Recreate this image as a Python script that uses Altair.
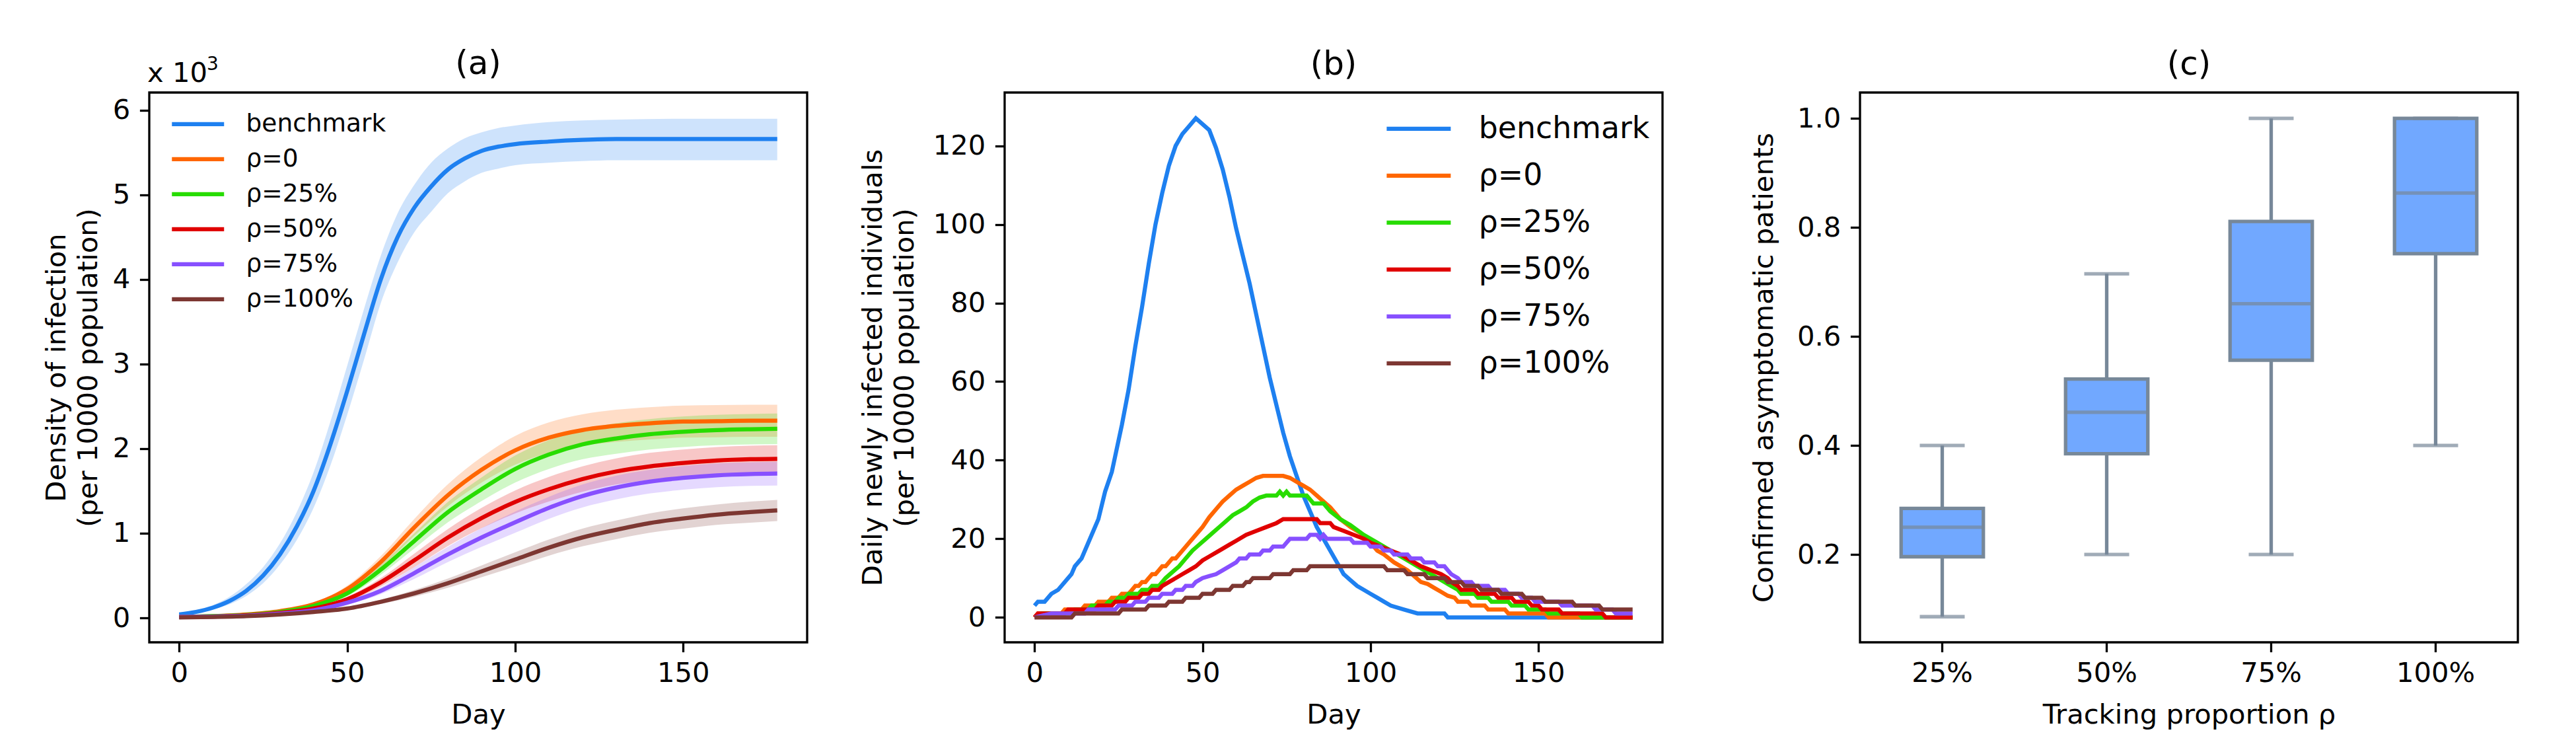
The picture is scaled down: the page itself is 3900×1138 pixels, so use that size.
import altair as alt
import pandas as pd

FONT = "DejaVu Sans"
FS = 41.7

series_names = ["benchmark", "ρ=0", "ρ=25%", "ρ=50%", "ρ=75%", "ρ=100%"]
series_colors = ["#1e80f0", "#ff6600", "#28dc00", "#e00000", "#8750ff", "#7d3732"]

# ---------------- Panel (a): cumulative density (x 10^3) ----------------
bench_a_days = [0, 5, 10, 15, 20, 25, 30, 35, 40, 45, 50, 55, 60, 65, 70, 75, 80, 85, 90, 95, 100, 110, 120, 130, 150, 178]
bench_a_mean = [0.04, 0.07, 0.12, 0.2, 0.32, 0.5, 0.75, 1.08, 1.5, 2.05, 2.68, 3.35, 4.0, 4.5, 4.85, 5.1, 5.3, 5.43, 5.52, 5.57, 5.6, 5.63, 5.65, 5.66, 5.66, 5.66]
bench_a_hi = [0.05, 0.09, 0.15, 0.25, 0.4, 0.6, 0.88, 1.25, 1.72, 2.32, 2.98, 3.65, 4.28, 4.78, 5.12, 5.38, 5.55, 5.67, 5.74, 5.79, 5.82, 5.86, 5.88, 5.89, 5.9, 5.9]
bench_a_lo = [0.03, 0.06, 0.1, 0.16, 0.26, 0.41, 0.63, 0.92, 1.3, 1.8, 2.4, 3.05, 3.72, 4.2, 4.56, 4.8, 5.02, 5.16, 5.26, 5.31, 5.35, 5.38, 5.4, 5.41, 5.41, 5.41]

days_a = [0, 10, 20, 30, 40, 50, 60, 70, 80, 90, 100, 110, 120, 130, 140, 150, 160, 170, 178]
r0_mean = [0.01, 0.02, 0.04, 0.08, 0.16, 0.34, 0.66, 1.07, 1.45, 1.75, 1.98, 2.13, 2.22, 2.27, 2.30, 2.32, 2.325, 2.33, 2.33]
r0_hi = [0.01, 0.02, 0.045, 0.09, 0.18, 0.38, 0.73, 1.17, 1.58, 1.90, 2.15, 2.31, 2.405, 2.46, 2.49, 2.51, 2.515, 2.52, 2.52]
r0_lo = [0.01, 0.02, 0.035, 0.07, 0.14, 0.30, 0.59, 0.97, 1.32, 1.60, 1.81, 1.95, 2.035, 2.08, 2.11, 2.13, 2.135, 2.14, 2.14]
r25_mean = [0.01, 0.02, 0.035, 0.07, 0.14, 0.29, 0.57, 0.91, 1.25, 1.52, 1.76, 1.93, 2.05, 2.12, 2.17, 2.20, 2.22, 2.23, 2.235]
r25_hi = [0.01, 0.02, 0.04, 0.08, 0.16, 0.325, 0.63, 1.0, 1.37, 1.66, 1.92, 2.10, 2.225, 2.30, 2.35, 2.38, 2.40, 2.41, 2.415]
r25_lo = [0.01, 0.02, 0.03, 0.06, 0.12, 0.255, 0.51, 0.82, 1.13, 1.38, 1.60, 1.76, 1.875, 1.94, 1.99, 2.02, 2.04, 2.05, 2.055]
r50_mean = [0.01, 0.015, 0.03, 0.06, 0.11, 0.22, 0.42, 0.68, 0.95, 1.18, 1.37, 1.52, 1.64, 1.73, 1.79, 1.83, 1.86, 1.875, 1.88]
r50_hi = [0.01, 0.015, 0.035, 0.07, 0.125, 0.25, 0.47, 0.76, 1.05, 1.30, 1.505, 1.665, 1.79, 1.885, 1.95, 1.99, 2.02, 2.035, 2.04]
r50_lo = [0.01, 0.015, 0.025, 0.05, 0.095, 0.19, 0.37, 0.60, 0.85, 1.06, 1.235, 1.375, 1.49, 1.575, 1.63, 1.67, 1.70, 1.715, 1.72]
r75_mean = [0.01, 0.015, 0.025, 0.05, 0.09, 0.18, 0.32, 0.53, 0.75, 0.95, 1.13, 1.30, 1.44, 1.54, 1.61, 1.655, 1.685, 1.70, 1.705]
r75_hi = [0.01, 0.015, 0.03, 0.06, 0.105, 0.205, 0.36, 0.60, 0.84, 1.06, 1.255, 1.43, 1.575, 1.68, 1.75, 1.795, 1.825, 1.84, 1.845]
r75_lo = [0.01, 0.015, 0.02, 0.04, 0.075, 0.155, 0.28, 0.46, 0.66, 0.84, 1.005, 1.17, 1.305, 1.40, 1.47, 1.515, 1.545, 1.56, 1.565]
r100_mean = [0.005, 0.01, 0.02, 0.04, 0.07, 0.11, 0.19, 0.29, 0.41, 0.55, 0.69, 0.83, 0.95, 1.04, 1.12, 1.175, 1.22, 1.25, 1.27]
r100_hi = [0.005, 0.01, 0.023, 0.045, 0.08, 0.125, 0.215, 0.33, 0.465, 0.62, 0.775, 0.925, 1.055, 1.15, 1.235, 1.295, 1.34, 1.375, 1.395]
r100_lo = [0.005, 0.01, 0.017, 0.035, 0.06, 0.095, 0.165, 0.25, 0.355, 0.48, 0.605, 0.735, 0.845, 0.93, 1.005, 1.055, 1.10, 1.125, 1.145]

# ---------------- Panel (b): daily new infections ----------------
bench_b_days = [0, 1, 3, 5, 7, 9, 11, 12, 14, 16, 18, 19, 21, 23, 24, 26, 28, 30, 32, 34, 36, 38, 40, 42, 44, 46, 48, 50, 52, 54, 56, 58, 60, 62, 64, 66, 68, 70, 72, 74, 76, 78, 80, 82, 84, 86, 88, 90, 92, 94, 96, 98, 100, 102, 104, 106, 110, 114, 122, 123, 178]
bench_b_vals = [3, 4, 4, 6, 7, 9, 11, 13, 15, 19, 23, 25, 32, 37, 41, 49, 58, 69, 79, 90, 100, 108, 115, 120, 123, 125, 127, 125.5, 124, 119.5, 114, 107, 99, 92, 85, 77, 69, 61, 54, 47, 41, 36, 31, 27, 23, 20, 17, 14, 11, 9.5, 8, 7, 6, 5, 4, 3, 2, 1, 1, 0, 0]
r0_b_days = [0, 1, 8, 9, 14, 15, 18, 19, 22, 23, 25, 26, 28, 29, 30, 31, 32, 33, 34, 35, 36, 37, 38, 39, 40, 41, 42, 44, 46, 48, 50, 52, 54, 56, 58, 60, 62, 64, 66, 68, 74, 76, 78, 80, 82, 84, 86, 88, 91, 94, 97, 100, 102, 104, 107, 109, 111, 113, 115, 117, 119, 121, 123, 125, 126, 129, 130, 134, 135, 140, 141, 152, 153, 178]
r0_b_vals = [0, 1, 1, 2, 2, 3, 3, 4, 4, 5, 5, 6, 6, 7, 8, 8, 9, 9, 10, 11, 11, 12, 13, 13, 14, 15, 15, 17, 19, 21, 23, 25.5, 27.5, 29.5, 31, 32.5, 33.5, 34.5, 35.5, 36, 36, 35.5, 34.5, 33.5, 32.5, 31, 29.5, 28, 25, 23, 21.5, 19, 17, 16, 14, 13, 12, 10.5, 9, 8.5, 7.5, 6.5, 5.5, 5, 4, 4, 3, 3, 2, 2, 1, 1, 0, 0]
r25_b_days = [0, 2, 11, 12, 16, 17, 21, 22, 24, 25, 27, 28, 31, 32, 34, 35, 37, 38, 39, 41, 43, 45, 47, 49, 51, 53, 55, 57, 59, 61, 63, 65, 67, 69, 72, 73, 74, 75, 76, 81, 83, 86, 88, 91, 94, 98, 102, 106, 110, 114, 118, 121, 124, 126, 127, 131, 132, 135, 136, 141, 142, 146, 147, 152, 153, 162, 163, 178]
r25_b_vals = [0, 1, 1, 2, 2, 3, 3, 4, 4, 5, 5, 6, 6, 7, 7, 8, 8, 9, 10, 11.5, 13, 15, 17, 18.5, 20, 21.5, 23, 24.5, 26, 27, 28, 29.5, 30.5, 31, 31, 32, 31, 32, 31, 31, 29, 29, 27, 25, 23.5, 21, 19, 17, 15, 13, 11, 9.5, 8, 7, 6, 6, 5, 5, 4, 4, 3, 3, 2, 2, 1, 1, 0, 0]
r50_b_days = [0, 1, 9, 10, 18, 19, 23, 24, 27, 28, 31, 32, 34, 35, 37, 38, 40, 42, 44, 46, 48, 50, 52, 55, 58, 60, 63, 66, 69, 72, 74, 84, 85, 88, 89, 92, 95, 98, 100, 103, 106, 109, 112, 115, 118, 121, 123, 124, 126, 127, 131, 132, 137, 138, 142, 143, 147, 148, 150, 151, 156, 157, 169, 170, 178]
r50_b_vals = [0, 1, 1, 2, 2, 3, 3, 4, 4, 5, 5, 6, 6, 7, 7, 8, 9, 10, 11, 12, 13, 14.5, 15.5, 17, 18.5, 19.5, 21, 22, 23, 24, 25, 25, 24, 24, 23, 22, 21, 20, 19, 18, 17, 16, 14.5, 13, 12, 11, 10, 9, 8, 7, 7, 6, 6, 5, 5, 4, 4, 3, 3, 2, 2, 1, 1, 0, 0]
r75_b_days = [0, 5, 15, 16, 24, 25, 29, 30, 33, 34, 37, 38, 41, 42, 44, 45, 47, 48, 50, 52, 54, 56, 58, 60, 61, 63, 64, 67, 68, 70, 71, 74, 75, 76, 81, 82, 84, 85, 86, 87, 94, 95, 99, 100, 103, 104, 106, 107, 111, 112, 115, 116, 119, 120, 122, 123, 124, 126, 127, 130, 131, 135, 136, 140, 141, 144, 145, 148, 149, 156, 157, 166, 167, 172, 173, 178]
r75_b_vals = [0, 1, 1, 2, 2, 3, 3, 4, 4, 5, 5, 6, 6, 7, 7, 8, 8, 9, 10, 10.5, 11, 12, 13, 14, 15, 15, 16, 16, 17, 17, 18, 18, 19, 20, 20, 21, 21, 20, 21, 20, 20, 19, 19, 18, 18, 17, 17, 16, 16, 15, 15, 14, 14, 13, 13, 12, 11, 10, 9, 9, 8, 8, 7, 7, 6, 6, 5, 5, 4, 4, 3, 3, 2, 2, 1, 1]
r100_b_days = [0, 11, 12, 25, 26, 33, 34, 39, 40, 44, 45, 49, 50, 53, 54, 58, 59, 62, 63, 64, 65, 70, 71, 76, 77, 81, 82, 104, 105, 110, 111, 116, 117, 122, 123, 127, 128, 132, 133, 138, 139, 145, 146, 151, 152, 160, 161, 168, 169, 178]
r100_b_vals = [0, 0, 1, 1, 2, 2, 3, 3, 4, 4, 5, 5, 6, 6, 7, 7, 8, 8, 9, 9, 10, 10, 11, 11, 12, 12, 13, 13, 12, 12, 11, 11, 10, 10, 9, 9, 8, 8, 7, 7, 6, 6, 5, 5, 4, 4, 3, 3, 2, 2]

# ---------------- Panel (c): box plot ----------------
box_cats = ["25%", "50%", "75%", "100%"]
box_wlo = [0.086, 0.2, 0.2, 0.4]
box_q1 = [0.196, 0.385, 0.5565, 0.752]
box_med = [0.25, 0.461, 0.66, 0.863]
box_q3 = [0.2845, 0.522, 0.811, 1.0]
box_whi = [0.4, 0.715, 1.0, 1.0]

# ---------------- Build tables ----------------
a_sets = [
    (bench_a_days, bench_a_mean, bench_a_lo, bench_a_hi),
    (days_a, r0_mean, r0_lo, r0_hi),
    (days_a, r25_mean, r25_lo, r25_hi),
    (days_a, r50_mean, r50_lo, r50_hi),
    (days_a, r75_mean, r75_lo, r75_hi),
    (days_a, r100_mean, r100_lo, r100_hi),
]
rows = []
for name, (d, m, lo, hi) in zip(series_names, a_sets):
    for i in range(len(d)):
        rows.append({"series": name, "day": d[i], "mean": m[i], "lo": lo[i], "hi": hi[i]})
df_a = pd.DataFrame(rows)

b_sets = [
    (bench_b_days, bench_b_vals), (r0_b_days, r0_b_vals), (r25_b_days, r25_b_vals),
    (r50_b_days, r50_b_vals), (r75_b_days, r75_b_vals), (r100_b_days, r100_b_vals),
]
rows = []
for name, (d, v) in zip(series_names, b_sets):
    for i in range(len(d)):
        rows.append({"series": name, "day": d[i], "val": v[i]})
df_b = pd.DataFrame(rows)

df_c = pd.DataFrame({"cat": box_cats, "wlo": box_wlo, "q1": box_q1, "med": box_med,
                     "q3": box_q3, "whi": box_whi})

W, H = 996, 832
LW = 6.25
LEG_PATH = "M-3,0H3"
cscale = alt.Scale(domain=series_names, range=series_colors)
xscale = alt.Scale(domain=[-8.9, 186.9], nice=False, zero=False)


def x_axis():
    return alt.Axis(values=[0, 50, 100, 150], title="Day", titlePadding=22, labelPadding=11.6)


# Panel (a)
ya_scale = alt.Scale(domain=[-0.289, 6.21], nice=False, zero=False)
ya_axis = alt.Axis(values=[0, 1, 2, 3, 4, 5, 6], title=["Density of infection", "(per 10000 population)"],
                   titlePadding=15, titleLineHeight=48)
layers_a = []
for s, col in zip(series_names, series_colors):
    layers_a.append(
        alt.Chart(df_a).transform_filter(alt.datum.series == s)
        .mark_area(opacity=0.22, interpolate="monotone", color=col)
        .encode(x=alt.X("day:Q", scale=xscale, axis=x_axis()),
                y=alt.Y("lo:Q", scale=ya_scale, axis=ya_axis),
                y2="hi:Q")
    )
legend_a = alt.Legend(title=None, orient="none", legendX=55, legendY=29, symbolType=LEG_PATH,
                      symbolSize=693, symbolStrokeWidth=LW, labelFontSize=37.5, labelOffset=54,
                      rowPadding=14, padding=0, symbolOpacity=1, labelLimit=0)
for s in series_names:
    layers_a.append(
        alt.Chart(df_a).transform_filter(alt.datum.series == s)
        .mark_line(strokeWidth=LW, interpolate="monotone")
        .encode(x=alt.X("day:Q", scale=xscale, axis=x_axis()),
                y=alt.Y("mean:Q", scale=ya_scale, axis=ya_axis),
                color=alt.Color("series:N", scale=cscale, legend=legend_a, sort=series_names))
    )
one = pd.DataFrame({"k": [0]})
layers_a.append(alt.Chart(one).mark_text(align="left", baseline="alphabetic", fontSize=FS, font=FONT, color="black")
                .encode(x=alt.value(-3), y=alt.value(-16), text=alt.value("x 10")))
layers_a.append(alt.Chart(one).mark_text(align="left", baseline="alphabetic", fontSize=28, font=FONT, color="black")
                .encode(x=alt.value(87), y=alt.value(-34), text=alt.value("3")))
panel_a = alt.layer(*layers_a).properties(
    width=W, height=H, title=alt.TitleParams("(a)", frame="group", anchor="middle", offset=-38))

# Panel (b)
yb_scale = alt.Scale(domain=[-6.34, 133.56], nice=False, zero=False)
yb_axis = alt.Axis(values=[0, 20, 40, 60, 80, 100, 120],
                   title=["Daily newly infected individuals", "(per 10000 population)"],
                   titlePadding=21, titleLineHeight=48)
legend_b = alt.Legend(title=None, orient="none", legendX=604, legendY=32, symbolType=LEG_PATH,
                      symbolSize=1045, symbolStrokeWidth=LW, labelFontSize=45.8, labelOffset=68,
                      rowPadding=24, padding=0, symbolOpacity=1, labelLimit=0)
layers_b = []
for s in series_names:
    layers_b.append(
        alt.Chart(df_b).transform_filter(alt.datum.series == s)
        .mark_line(strokeWidth=LW)
        .encode(x=alt.X("day:Q", scale=xscale, axis=x_axis()),
                y=alt.Y("val:Q", scale=yb_scale, axis=yb_axis),
                color=alt.Color("series:N", scale=cscale, legend=legend_b, sort=series_names))
    )
panel_b = alt.layer(*layers_b).properties(
    width=W, height=H, title=alt.TitleParams("(b)", frame="group", anchor="middle", offset=17))

# Panel (c)
edge = "#778899"
xc = alt.X("cat:N", sort=box_cats, scale=alt.Scale(domain=box_cats, paddingInner=0, paddingOuter=0),
           axis=alt.Axis(title="Tracking proportion ρ", labelAngle=0, titlePadding=22, labelPadding=11.6))
yc_scale = alt.Scale(domain=[0.039, 1.0475], nice=False, zero=False)
yc_axis = alt.Axis(values=[0.2, 0.4, 0.6, 0.8, 1.0], format=".1f", title="Confirmed asymptomatic patients",
                   titlePadding=28)
base_c = alt.Chart(df_c)
whisk = base_c.mark_rule(color=edge, strokeWidth=5.3).encode(
    x=xc, y=alt.Y("wlo:Q", scale=yc_scale, axis=yc_axis), y2="whi:Q")
boxes = base_c.mark_bar(width=alt.RelativeBandSize(0.5), color="#71a8ff", stroke=edge, strokeWidth=5.3).encode(
    x=xc, y=alt.Y("q1:Q", scale=yc_scale, axis=yc_axis), y2="q3:Q")
med = base_c.mark_tick(color=edge, size=125, thickness=5.3).encode(
    x=xc, y=alt.Y("med:Q", scale=yc_scale, axis=yc_axis))
cap_lo = base_c.mark_tick(color=edge, size=68, thickness=5.3).encode(
    x=xc, y=alt.Y("wlo:Q", scale=yc_scale, axis=yc_axis))
cap_hi = base_c.mark_tick(color=edge, size=68, thickness=5.3).encode(
    x=xc, y=alt.Y("whi:Q", scale=yc_scale, axis=yc_axis))
panel_c = alt.layer(whisk, boxes, med, cap_lo, cap_hi).properties(
    width=W, height=H, title=alt.TitleParams("(c)", frame="group", anchor="middle", offset=17))

chart = alt.hconcat(panel_a, panel_b, panel_c, spacing=299, bounds="flush").resolve_scale(
    color="independent", x="independent", y="independent"
).resolve_legend(color="independent").properties(
    padding={"left": 55, "top": 62, "right": 10, "bottom": 10}, background="white"
).configure_view(stroke="black", strokeWidth=3.3).configure_axis(
    labelFont=FONT, titleFont=FONT, labelFontSize=FS, titleFontSize=FS, labelColor="black",
    titleColor="black", tickColor="black", tickWidth=3.3, tickSize=14.6, labelPadding=14.6,
    domain=False, grid=False, titleFontWeight="normal"
).configure_title(font=FONT, fontSize=50, fontWeight="normal", color="black").configure_legend(
    labelFont=FONT, labelColor="black"
)

chart.save("out.html", embed_options={"renderer": "svg", "actions": False})
